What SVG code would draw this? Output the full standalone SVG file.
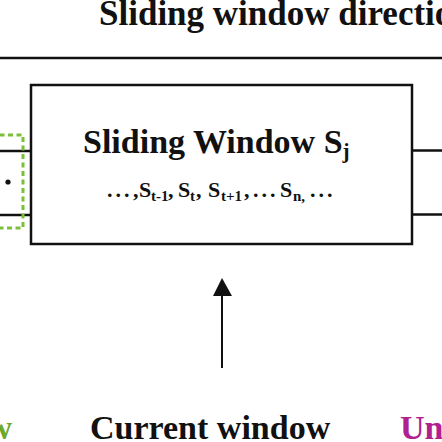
<svg xmlns="http://www.w3.org/2000/svg" width="442" height="442" viewBox="0 0 442 442">
<style>
.t{font-family:"Liberation Serif","Times New Roman",serif;font-weight:bold;fill:#111}
.ln{stroke:#111;stroke-width:2.5;fill:none}
</style>
<rect width="442" height="442" fill="#fff"/>
<g id="direction-title">
<text class="t" x="99" y="25" font-size="35">Sliding window direction</text>
</g>
<g id="connectors">
<line class="ln" x1="0" y1="58" x2="442" y2="58" stroke-width="3.5"/>
<line class="ln" x1="0" y1="151" x2="31" y2="151"/>
<line class="ln" x1="0" y1="215" x2="31" y2="215"/>
<line class="ln" x1="412" y1="150.5" x2="442" y2="150.5"/>
<line class="ln" x1="412" y1="214.5" x2="442" y2="214.5"/>
<line x1="222" y1="368" x2="222" y2="295" stroke="#111" stroke-width="2"/>
<path d="M222,278 L213,296 L232,296 z" fill="#111"/>
</g>
<g id="previous-window">
<rect x="-60" y="135" width="83" height="93" fill="none" stroke="#7cc03a" stroke-width="3" stroke-dasharray="5,3.5"/>
<circle cx="8" cy="182" r="2.6" fill="#111"/>
<text class="t" x="12" y="439" font-size="34" text-anchor="end" style="fill:#6aaa2a">w</text>
</g>
<g id="sliding-window">
<rect x="31" y="85" width="381" height="159" class="ln"/>
<text class="t" x="83" y="153" font-size="34">Sliding Window S<tspan font-size="21" dy="5">j</tspan></text>
<text class="t" y="197" font-size="22">
<tspan x="107" letter-spacing="3">...</tspan><tspan x="133">,</tspan><tspan x="139">S</tspan><tspan x="151" dy="4" font-size="15">t-1</tspan><tspan x="168" dy="-4">,</tspan><tspan x="178">S</tspan><tspan x="190" dy="4" font-size="15">t</tspan><tspan x="196" dy="-4">,</tspan><tspan x="208">S</tspan><tspan x="221" dy="4" font-size="15">t+1</tspan><tspan x="244" dy="-4">,</tspan><tspan x="253" letter-spacing="3">...</tspan><tspan x="280">S</tspan><tspan x="293" dy="4" font-size="15">n,</tspan><tspan x="310" dy="-4" letter-spacing="3">...</tspan>
</text>
</g>
<g id="current-window">
<text class="t" x="90" y="439" font-size="34">Current window</text>
</g>
<g id="unknown-window">
<text class="t" x="400" y="439" font-size="34" style="fill:#b0208f">Un</text>
</g>
</svg>
